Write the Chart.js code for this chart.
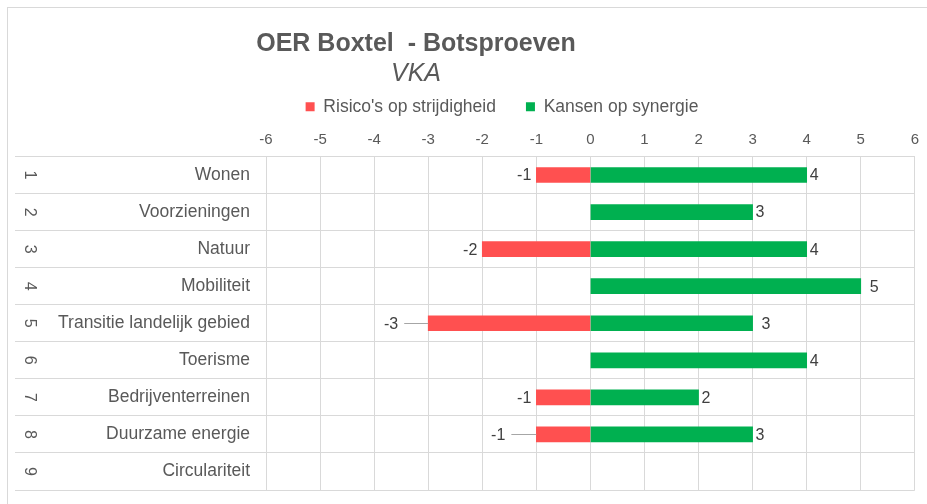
<!DOCTYPE html>
<html>
<head>
<meta charset="utf-8">
<script src="https://cdn.jsdelivr.net/npm/chart.js@4.4.1/dist/chart.umd.min.js"></script>
<style>
  html, body { margin: 0; padding: 0; background: #fff; }
  #wrap { width: 927px; height: 504px; }
</style>
</head>
<body>
<div id="wrap"><canvas id="myChart" width="927" height="504"></canvas></div>
<script>
const titel = 'OER Boxtel  - Botsproeven'
const ondertitel = 'VKA'
const rijNummers = ['1', '2', '3', '4', '5', '6', '7', '8', '9']
const thema = ['Wonen', 'Voorzieningen', 'Natuur', 'Mobiliteit', 'Transitie landelijk gebied',
    'Toerisme', 'Bedrijventerreinen', 'Duurzame energie', 'Circulariteit']
const risicos = [-1, null, -2, null, -3, null, -1, -1, null]
const kansen = [4, 3, 4, 5, 3, 4, 2, 3, null]

const grijs = '#d9d9d9'
const tekst = '#595959'
const lettertype = '"Liberation Sans", Arial, sans-serif'

// labels die in het origineel een eindje verschoven staan (met verbindingslijntje)
const verschuivingPos = { 3: 6, 4: 6 }
const leiderNeg = { 4: 25, 7: 26 }

const kaderPlugin = {
    id: 'kader',
    beforeDraw(chart) {
        const ctx = chart.ctx
        ctx.save()
        ctx.strokeStyle = grijs
        ctx.lineWidth = 1
        ctx.strokeRect(7.5, 7.5, 940, 520)
        ctx.restore()
    }
}

const titelPlugin = {
    id: 'titel',
    afterDraw(chart) {
        const ctx = chart.ctx
        ctx.save()
        ctx.fillStyle = tekst
        ctx.textAlign = 'center'
        ctx.textBaseline = 'middle'
        ctx.font = 'bold 25px ' + lettertype
        ctx.fillText(titel, 416, 44)
        ctx.font = 'italic 25px ' + lettertype
        ctx.fillText(ondertitel, 416, 74)
        ctx.restore()
    }
}

// rijnummers (gedraaid) en thema-namen links van de grafiek
const rijPlugin = {
    id: 'rijen',
    afterDraw(chart) {
        const y = chart.scales.y
        const ctx = chart.ctx
        ctx.save()
        ctx.fillStyle = tekst
        ctx.textBaseline = 'middle'
        thema.forEach((naam, i) => {
            const py = y.getPixelForValue(i)
            ctx.font = '17.5px ' + lettertype
            ctx.textAlign = 'right'
            ctx.fillText(naam, chart.chartArea.left - 16, py)
            ctx.save()
            ctx.font = '16px ' + lettertype
            ctx.textAlign = 'center'
            ctx.translate(29, py)
            ctx.rotate(Math.PI / 2)
            ctx.fillText(rijNummers[i], 0, 0)
            ctx.restore()
        })
        ctx.restore()
    }
}

const waardePlugin = {
    id: 'waarden',
    afterDatasetsDraw(chart) {
        const ctx = chart.ctx
        ctx.save()
        ctx.fillStyle = '#404040'
        ctx.font = '16px ' + lettertype
        ctx.textBaseline = 'middle'
        chart.data.datasets.forEach((ds, d) => {
            chart.getDatasetMeta(d).data.forEach((el, i) => {
                const v = ds.data[i]
                if (v === null || v === 0) return
                if (v > 0) {
                    ctx.textAlign = 'left'
                    ctx.fillText(String(v), el.x + 3 + (verschuivingPos[i] || 0), el.y + 1)
                } else {
                    const extra = leiderNeg[i] || 0
                    const xr = el.x - 5 - extra
                    ctx.textAlign = 'right'
                    ctx.fillText(String(v), xr, el.y + 1)
                    if (extra) {
                        ctx.strokeStyle = '#a6a6a6'
                        ctx.lineWidth = 1
                        ctx.beginPath()
                        ctx.moveTo(xr + 6, Math.round(el.y) + 0.5)
                        ctx.lineTo(el.x, Math.round(el.y) + 0.5)
                        ctx.stroke()
                    }
                }
            })
        })
        ctx.restore()
    }
}

const data = {
    labels: thema,
    datasets: [{
        label: "Risico's op strijdigheid",
        data: risicos,
        backgroundColor: '#ff5050',
        barThickness: 15
    }, {
        label: 'Kansen op synergie',
        data: kansen,
        backgroundColor: '#00b050',
        barThickness: 15
    }]
}

const config = {
    type: 'bar',
    data: data,
    options: {
        indexAxis: 'y',
        responsive: false,
        animation: false,
        layout: { padding: { left: 86, right: 9, top: 68, bottom: 14 } },
        plugins: {
            title: { display: false },
            tooltip: { enabled: false },
            legend: {
                position: 'top',
                labels: {
                    boxWidth: 9,
                    boxHeight: 9,
                    padding: 30,
                    color: tekst,
                    font: { size: 17.5, family: lettertype }
                }
            }
        },
        scales: {
            x: {
                position: 'top',
                stacked: true,
                min: -6,
                max: 6,
                afterFit: (s) => { s.height = 31 },
                ticks: {
                    stepSize: 1,
                    padding: 8,
                    color: tekst,
                    font: { size: 15, family: lettertype }
                },
                grid: { color: grijs, drawTicks: false },
                border: { color: grijs }
            },
            y: {
                stacked: true,
                afterFit: (s) => { s.width = 180 },
                ticks: { display: false },
                grid: { color: grijs, drawTicks: true, tickLength: 251, tickColor: grijs },
                border: { color: grijs }
            }
        }
    },
    plugins: [kaderPlugin, titelPlugin, rijPlugin, waardePlugin]
}

const ctx = document.getElementById('myChart')

new Chart(ctx, config)
</script>
</body>
</html>
